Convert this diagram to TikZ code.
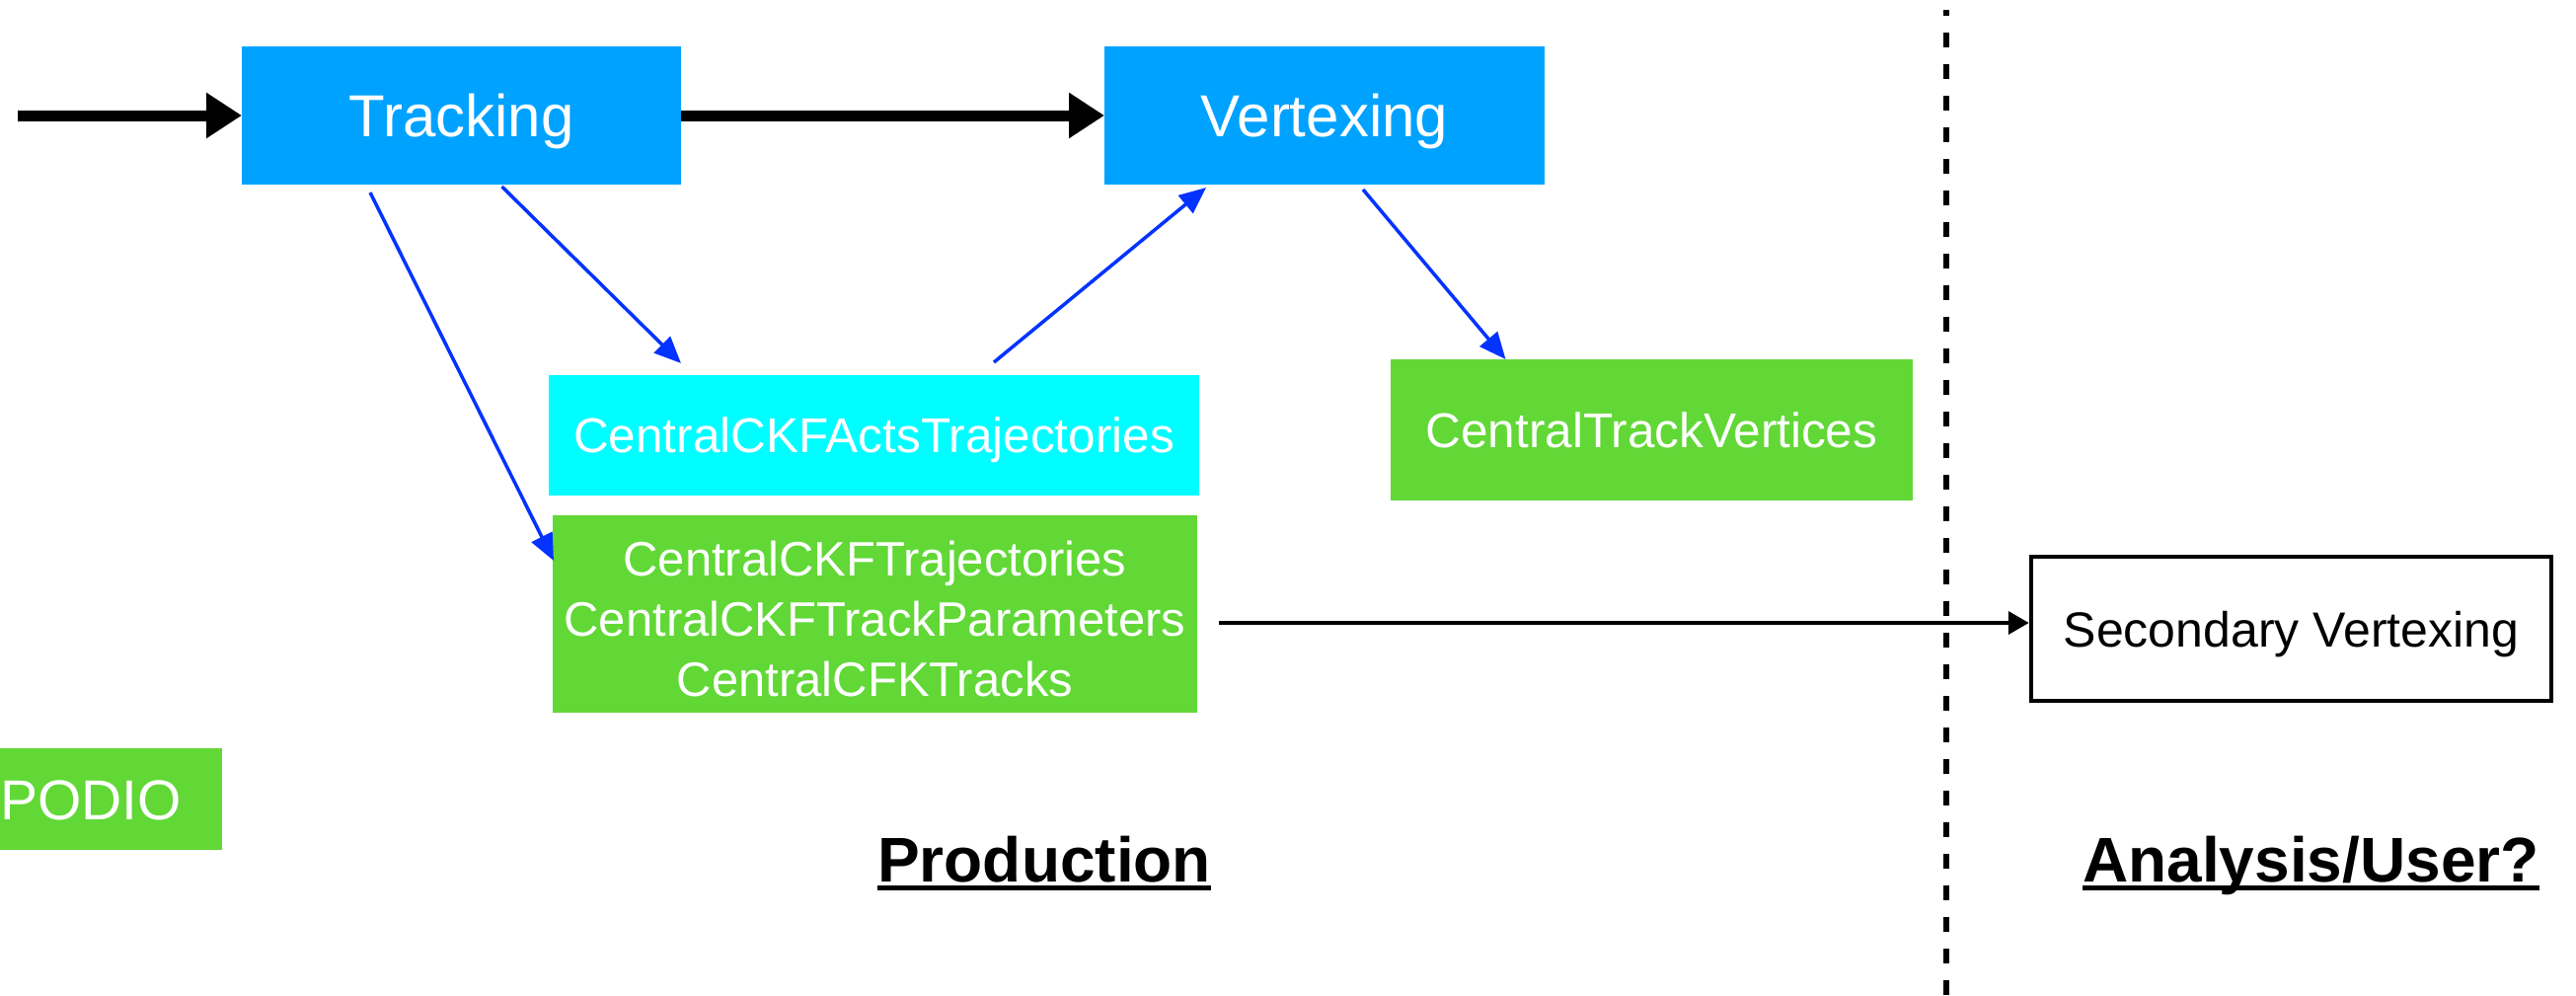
\documentclass[tikz,border=0pt]{standalone}
\usepackage{fontspec}
\setmainfont{Liberation Sans}
\usetikzlibrary{arrows.meta,calc}
\definecolor{kblue}{RGB}{0,162,255}
\definecolor{kcyan}{RGB}{0,253,255}
\definecolor{kgreen}{RGB}{97,216,54}
\definecolor{karrow}{RGB}{4,51,255}
\begin{document}
\begin{tikzpicture}[x=1pt,y=-1pt,
  box/.style={inner sep=0pt, outer sep=0pt, text=white, anchor=north west},
  big/.style={font=\fontsize{60}{72}\selectfont, text height=43pt, text depth=0pt},
  mid/.style={font=\fontsize{49.5}{61}\selectfont, text height=35.5pt, text depth=0pt},
  bigarrow/.style={line width=11pt, -{Triangle[length=36pt,width=44pt]}},
  bluearrow/.style={line width=3.5pt, color=karrow, -{Triangle[length=27pt,width=23pt]}},
  thinarrow/.style={line width=4pt, -{Triangle[length=21pt,width=23pt]}},
  divider/.style={line width=6pt, dash pattern=on 15pt off 17pt, dash phase=9pt},
  heading/.style={font=\fontsize{64}{76}\selectfont\bfseries, inner sep=0pt, anchor=base west}
]
\useasboundingbox (0,0) rectangle (2610,1009);
\clip (0,0) rectangle (2610,1009);

% boxes
\node[box, big, fill=kblue, minimum width=445pt, minimum height=140pt] (trk) at (245,47) {Tracking};
\node[box, big, fill=kblue, minimum width=446pt, minimum height=140pt] (vtx) at (1119,47) {Vertexing};
\node[box, mid, fill=kcyan, minimum width=659pt, minimum height=122pt] (cyan) at (556,380) {CentralCKFActsTrajectories};
\node[box, fill=kgreen, minimum width=653pt, minimum height=200pt, align=center,
      font=\fontsize{49}{61}\selectfont] (grn) at (560,522)
      {\rule{0pt}{46pt}CentralCKFTrajectories\\CentralCKFTrackParameters\\CentralCFKTracks};
\node[box, mid, fill=kgreen, minimum width=529pt, minimum height=143pt] (ctv) at (1409,364) {CentralTrackVertices};
\node[box, fill=kgreen, minimum width=266pt, minimum height=103pt,
      font=\fontsize{57}{68}\selectfont, text height=41pt, text depth=0pt] (podio) at (-41,758) {PODIO};
\node[box, text=black, draw=black, line width=4.5pt, minimum width=527pt, minimum height=146pt,
      font=\fontsize{50}{61}\selectfont, text height=36pt, text depth=0pt] (sec) at (2058,564) {Secondary Vertexing};

% headings
\node[heading] (prod) at (889,893) {Production};
\node[heading] (ana) at (2110,893) {Analysis/User?};
\draw[line width=5pt] ($(prod.base west)+(0,6.5)$) -- ($(prod.base east)+(0,6.5)$);
\draw[line width=5pt] ($(ana.base west)+(0,6.5)$) -- ($(ana.base east)+(0,6.5)$);

% divider
\coordinate (dtop) at (1972,10);
\coordinate (dbot) at (1972,1009);
\draw[divider] (dtop) -- (dbot);

% connectors
\coordinate (src) at (18,117);
\draw[bigarrow] (src) -- (trk.west);
\draw[bigarrow] (trk.east) -- (vtx.west);
\draw[bluearrow] ($(trk.south)+(-92.5,8)$) -- ($(grn.north west)+(1,46)$);
\draw[bluearrow] ($(trk.south)+(41,2)$) -- ($(cyan.north)+(-195.5,-12)$);
\draw[bluearrow] ($(cyan.north)+(121.5,-13)$) -- ($(vtx.south)+(-120,3)$);
\draw[bluearrow] ($(vtx.south)+(39,5)$) -- ($(ctv.north)+(-148,0)$);
\draw[thinarrow] ($(grn.east)+(22,9)$) -- ($(sec.west)+(-2.25,-6)$);
\end{tikzpicture}
\end{document}
